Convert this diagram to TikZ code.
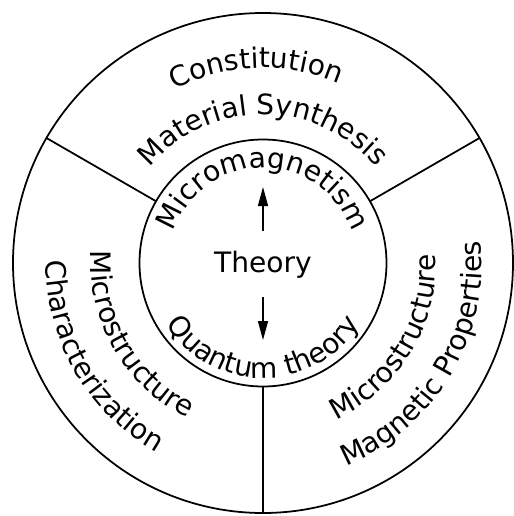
\documentclass[tikz,border=0pt]{standalone}
\usepackage{fontspec}
\setmainfont{DejaVu Sans}
\usetikzlibrary{arrows.meta,decorations.text}
\newcommand{\lblfont}{\fontsize{16}{19}\selectfont}

\begin{document}
\begin{tikzpicture}[
    ring/.style={draw, circle, line width=1pt, inner sep=0pt, outer sep=0pt},
    divider/.style={line width=1pt},
    arrow/.style={-{Triangle[length=3.8mm, width=2mm]}, line width=0.8pt},
    curved/.style={decorate, decoration={text along path, text align=center, text={|\lblfont|#1}}}
  ]
    \useasboundingbox (-5.26,-5.06) rectangle (5.02,5.26);

    \node[ring, minimum size=10cm] (outer) at (0,0) {};
    \node[ring, minimum size=4.94cm] (inner) at (0,0) {};

    \draw[divider] (inner.150) -- (outer.150);
    \draw[divider] (inner.30) -- (outer.30);
    \draw[divider] (inner.270) -- (outer.270);

    \node[font=\lblfont, inner ysep=0.38cm, anchor=base] (theory) at (0,-0.18) {Theory};
    \coordinate (up) at (0,1.52);
    \coordinate (down) at (0,-1.54);
    \draw[arrow] (theory) -- (up);
    \draw[arrow] (theory) -- (down);

    % inner ring
    \path[curved=Micromagnetism] (180:1.9) arc[start angle=180, end angle=0, radius=1.9];
    \path[curved=Quantum theory] (180:2.3) arc[start angle=180, end angle=360, radius=2.3];

    % top sector
    \path[curved=Constitution] (150:3.9) arc[start angle=150, end angle=34, radius=3.9];
    \path[curved=Material Synthesis] (150:2.97) arc[start angle=150, end angle=30, radius=2.97];

    % left sector
    \path[curved=Microstructure] (150:3.44) arc[start angle=150, end angle=270, radius=3.44];
    \path[curved=Characterization] (150:4.34) arc[start angle=150, end angle=270, radius=4.34];

    % right sector
    \path[curved=Microstructure] (270:3.46) arc[start angle=270, end angle=388, radius=3.46];
    \path[curved=Magnetic Properties] (270:4.38) arc[start angle=270, end angle=388, radius=4.38];
\end{tikzpicture}
\end{document}
